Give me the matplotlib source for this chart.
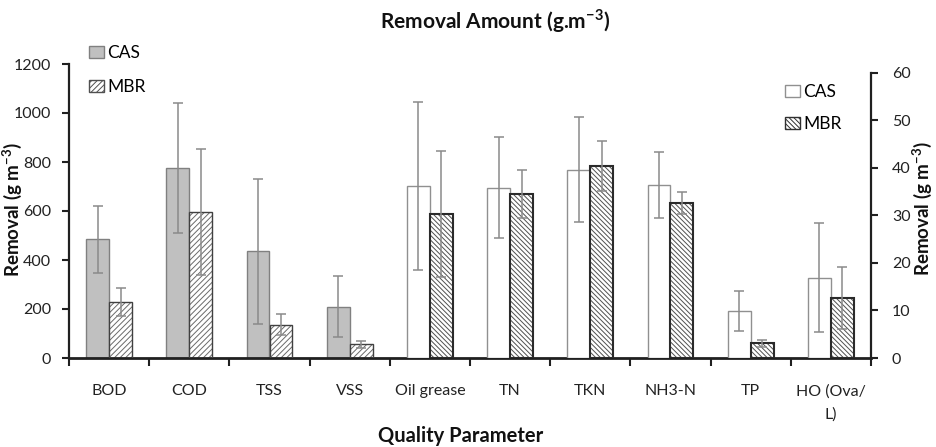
import matplotlib
matplotlib.use("Agg")
import matplotlib.pyplot as plt
from matplotlib.patches import Patch
import numpy as np

plt.rcParams['font.family'] = ['Lato', 'DejaVu Sans']
plt.rcParams['mathtext.fontset'] = 'custom'
plt.rcParams['mathtext.rm'] = 'Lato'
plt.rcParams['mathtext.bf'] = 'Lato:bold'
plt.rcParams['hatch.linewidth'] = 0.7

# ---- data ----
categories = ['BOD', 'COD', 'TSS', 'VSS', 'Oil grease', 'TN', 'TKN', 'NH3-N', 'TP', 'HO (Ova/\nL)']
left_cats = categories[:4]
right_cats = categories[4:]

cas_left = [485, 774, 435, 210]
cas_left_err = [137, 265, 295, 125]
mbr_left = [228, 595, 136, 56]
mbr_left_err = [57, 258, 44, 15]

cas_right = [36.2, 35.8, 39.6, 36.4, 9.8, 16.9]
cas_right_err = [17.6, 10.6, 11.0, 7.0, 4.2, 11.5]
mbr_right = [30.3, 34.5, 40.4, 32.6, 3.1, 12.6]
mbr_right_err = [13.2, 5.1, 5.2, 2.4, 0.7, 6.6]

left_ticks = [0, 200, 400, 600, 800, 1000, 1200]
right_ticks = [0, 10, 20, 30, 40, 50, 60]

W, H = 936, 447
fig = plt.figure(figsize=(W / 100, H / 100), dpi=100)
x0, x1 = 69, 871
y_top, y_bot = 64, 358
ax = fig.add_axes([x0 / W, 1 - y_bot / H, (x1 - x0) / W, (y_bot - y_top) / H])
ax2 = ax.twinx()

n = len(categories)
xl = np.arange(len(left_cats))
xr = np.arange(len(left_cats), n)
bw = 0.285
off = bw / 2

HATCH_L = '//////'
HATCH_R = '\\' * 7
err_kw = dict(fmt='none', ecolor='#8a8a8a', elinewidth=1.1, capsize=3.5, capthick=1.1, zorder=5)

ax.bar(xl - off, cas_left, bw, color='#c0c0c0', edgecolor='#808080', linewidth=1.0, zorder=2)
ax.bar(xl + off, mbr_left, bw, color='white', edgecolor='#6a6a6a', hatch=HATCH_L, linewidth=0, zorder=2)
ax.bar(xl + off, mbr_left, bw, fill=False, edgecolor='#404040', linewidth=1.0, zorder=3)
ax.errorbar(xl - off, cas_left, yerr=cas_left_err, **err_kw)
ax.errorbar(xl + off, mbr_left, yerr=mbr_left_err, **err_kw)

ax2.bar(xr - off, cas_right, bw, color='white', edgecolor='#909090', linewidth=1.0, zorder=2)
ax2.bar(xr + off, mbr_right, bw, color='white', edgecolor='#505050', hatch=HATCH_R, linewidth=0, zorder=2)
ax2.bar(xr + off, mbr_right, bw, fill=False, edgecolor='#2a2a2a', linewidth=1.5, zorder=3)
ax2.errorbar(xr - off, cas_right, yerr=cas_right_err, **err_kw)
ax2.errorbar(xr + off, mbr_right, yerr=mbr_right_err, **err_kw)

# axes limits
ax.set_xlim(-0.5, n - 0.5)
ax.set_ylim(0, 1200)
ax.set_yticks(left_ticks)
ax.set_yticklabels([str(t) for t in left_ticks])
r_top = 60 * (y_bot - y_top) / (y_bot - 72.7)
ax2.set_ylim(0, r_top)
ax2.set_yticks(right_ticks)
ax2.set_yticklabels([str(t) for t in right_ticks])

# spines
for s in ['top', 'right']:
    ax.spines[s].set_visible(False)
for s in ['top', 'left', 'bottom']:
    ax2.spines[s].set_visible(False)
ax.spines['left'].set_linewidth(1.6)
ax.spines['bottom'].set_linewidth(2.0)
ax.spines['left'].set_color('#202020')
ax.spines['bottom'].set_color('#202020')
ax2.spines['right'].set_linewidth(1.6)
ax2.spines['right'].set_color('#202020')
ax2.spines['right'].set_bounds(0, 60)

# ticks
ax.set_xticks(np.arange(n))
ax.set_xticklabels(categories, fontsize=11.5, color='#222222', va='top', linespacing=1.8)
ax.set_xticks(np.arange(n + 1) - 0.5, minor=True)
ax.tick_params(axis='x', which='major', length=0, pad=19)
ax.tick_params(axis='x', which='minor', length=6, width=1.5, direction='out', color='#202020')
ax.tick_params(axis='y', length=5, width=1.5, direction='out', labelsize=11.5, pad=8, color='#202020', labelcolor='#222222')
ax2.tick_params(axis='y', length=5, width=1.5, direction='out', labelsize=11.5, pad=10, color='#202020', labelcolor='#222222')

# labels
lab_kw = dict(fontweight='bold', color='#111111')
fig.text(495 / W, 1 - 21 / H, r'Removal Amount (g.m$^{\mathbf{-3}}$)', ha='center', va='center',
         fontsize=15, **lab_kw)
fig.text(12 / W, 1 - 210 / H, r'Removal (g m$^{\mathbf{-3}}$)', rotation=90, ha='center', va='center',
         fontsize=13.5, **lab_kw)
fig.text(922 / W, 1 - 209 / H, r'Removal (g m$^{\mathbf{-3}}$)', rotation=90, ha='center', va='center',
         fontsize=13.5, **lab_kw)
fig.text(461 / W, 1 - 436 / H, 'Quality Parameter', ha='center', va='center',
         fontsize=14.5, **lab_kw)

# legends
leg_kw = dict(frameon=False, fontsize=12.5, handlelength=0.85, handleheight=0.7,
              handletextpad=0.2, borderpad=0, borderaxespad=0)
h1 = [Patch(facecolor='#c0c0c0', edgecolor='#808080', label='CAS'),
      Patch(facecolor='white', edgecolor='#505050', hatch=HATCH_L, label='MBR')]
fig.legend(handles=h1, loc='upper left', bbox_to_anchor=(89 / W, 1 - 45 / H), labelspacing=1.05, **leg_kw)
h2 = [Patch(facecolor='white', edgecolor='#909090', label='CAS'),
      Patch(facecolor='white', edgecolor='#303030', hatch=HATCH_R, label='MBR')]
fig.legend(handles=h2, loc='upper left', bbox_to_anchor=(785 / W, 1 - 84 / H), labelspacing=0.95, **leg_kw)

fig.savefig('out.png', dpi=100)
